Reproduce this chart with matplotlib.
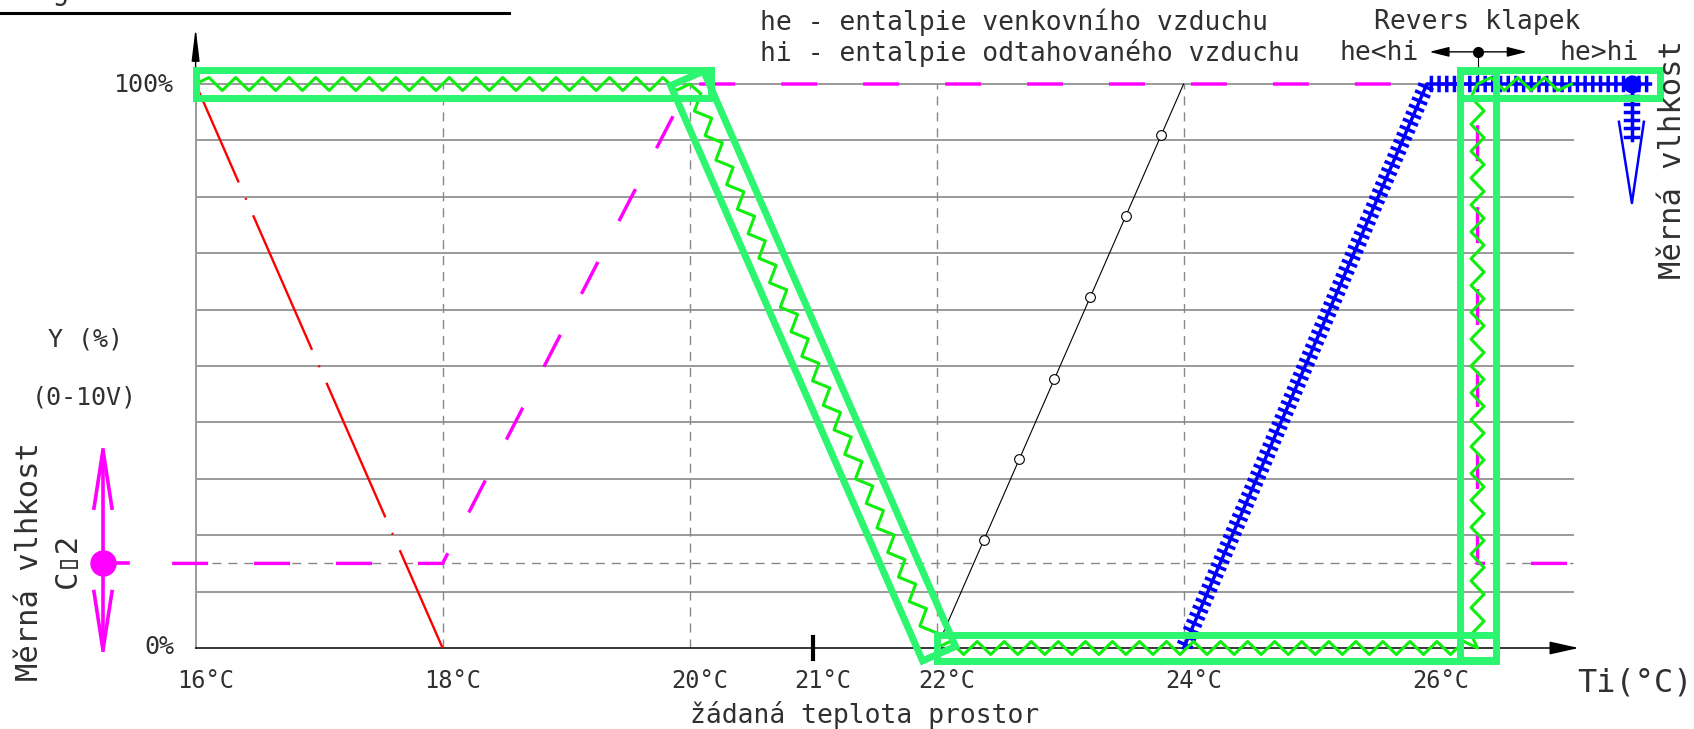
import matplotlib
matplotlib.use('Agg')
import matplotlib.pyplot as plt
import matplotlib.patheffects as pe
from matplotlib.patches import Polygon
import numpy as np

plt.rcParams['font.family'] = ['DejaVu Sans Mono', 'DejaVu Sans']
plt.rcParams['lines.scale_dashes'] = False

# --- data (temperature in °C, output Y in %) ---
x_ticks = [16, 18, 20, 21, 22, 24, 26]
x_tick_labels = ['16°C', '18°C', '20°C', '21°C', '22°C', '24°C', '26°C']
grid_levels = [10, 20, 30, 40, 50, 60, 70, 80, 90, 100]
dashed_temps = [18, 20, 22, 24]
co2_level = 15
t_end = 27.15

heat_t = [16, 18]                       # red dash-dot
heat_y = [100, 0]
co2_t = [15.81, 18, 20, 26.38, 26.38, 27.15]   # magenta dashed
co2_y = [15, 15, 100, 100, 15, 15]
cool_t = [22, 24]                       # black with circles
cool_y = [0, 100]
cool_marks = [19.2, 33.5, 47.7, 62.3, 76.6, 91.0]
rec_t = [24, 25.97, 27.78]              # blue ticked
rec_y = [0, 100, 100]
damp_t = [16, 20, 22, 26.38, 26.38, 27.14]     # green zigzag
damp_y = [100, 100, 0, 0, 100, 100]
reverse_t = 26.38

W, H = 1694, 729
fig = plt.figure(figsize=(W / 100, H / 100), dpi=100)
ax = fig.add_axes([0, 0, 1, 1])
ax.set_xlim(14.4162, 28.1328)
ax.set_ylim(-14.362, 114.894)
ax.axis('off')

GRAY = '#9a9a9a'
PINK = '#ff00ff'
BLUE = '#0000ff'
ZIG = '#10ee10'
BOX = '#2cf56f'
TXT = '#303030'


def label(xp, yp, s, **kw):
    kw.setdefault('color', TXT)
    kw.setdefault('va', 'center')
    fig.text(xp / W, 1 - yp / H, s, **kw)


def zigzag(xs, ys, period=27, amp=6.5):
    pts = ax.transData.transform(np.column_stack([xs, ys]))
    out = []
    for p0, p1 in zip(pts[:-1], pts[1:]):
        d = p1 - p0
        L = np.hypot(*d)
        u = d / L
        n = np.array([-u[1], u[0]])
        k = max(int(round(L / (period / 2))), 1)
        for i in range(k + 1):
            sign = 0 if i in (0, k) else (1 if i % 2 else -1)
            out.append(p0 + d * i / k + n * amp * sign)
    return ax.transData.inverted().transform(np.array(out))


def box(a, b, hw):
    p = ax.transData.transform([a, b])
    d = p[1] - p[0]
    u = d / np.hypot(*d)
    n = np.array([-u[1], u[0]]) * hw
    c = ax.transData.inverted().transform([p[0] + n, p[1] + n, p[1] - n, p[0] - n])
    ax.add_patch(Polygon(c, closed=True, fill=False, ec=BOX, lw=5, joinstyle='miter', zorder=6))


# grid
for g in grid_levels:
    ax.plot([16, t_end], [g, g], color=GRAY, lw=1.4, zorder=1)
for t in dashed_temps:
    ax.plot([t, t], [0, 100], color='#888888', lw=1.0, dashes=(6.5, 5), zorder=1)
ax.plot([16, t_end], [co2_level, co2_level], color='#888888', lw=1.0, dashes=(6.5, 5), zorder=1)

# axes
ax.plot([16, 16], [0, 100], color=GRAY, lw=1.4, zorder=2)
ax.annotate('', xy=(16, 110), xytext=(16, 100),
            arrowprops=dict(arrowstyle='-|>,head_length=1.0,head_width=0.12', color='k',
                            lw=1.0, mutation_scale=20, shrinkA=0, shrinkB=0))
ax.annotate('', xy=(27.2, 0), xytext=(16, 0),
            arrowprops=dict(arrowstyle='-|>,head_length=0.9,head_width=0.2', color='k',
                            lw=1.1, mutation_scale=20, shrinkA=0, shrinkB=0), zorder=2)
ax.plot([21, 21], [-2, 2], color='k', lw=3, zorder=3)

# curves
ax.plot(co2_t, co2_y, color=PINK, lw=2.45, dashes=(25.9, 33.1), solid_capstyle='butt',
        dash_capstyle='butt', zorder=3)
ax.plot(heat_t, heat_y, color='red', lw=1.7, linestyle=(28.4, (105.8, 12.2, 1.4, 12.2)),
        dash_capstyle='butt', zorder=3)
ax.plot(cool_t, cool_y, color='k', lw=0.8, zorder=3)
ax.plot(np.interp(cool_marks, cool_y, cool_t), cool_marks, 'o', ms=7, mfc='white',
        mec='k', mew=0.8, zorder=4)

ticks = [pe.Normal(),
         pe.TickedStroke(spacing=5.5, angle=90, length=0.85),
         pe.TickedStroke(spacing=5.5, angle=-90, length=0.85)]
ax.plot(rec_t, rec_y, color=BLUE, lw=2.5, path_effects=ticks, zorder=4)
ax.plot([27.63, 27.63], [100, 90], color=BLUE, lw=2.5, path_effects=ticks, zorder=4)
ax.plot([27.63], [100], 'o', color=BLUE, ms=12, zorder=4)
ax.plot([27.525, 27.63, 27.727], [93.3, 78.9, 93.3], color=BLUE, lw=1.8, zorder=4)

# CO2 symbol at the left
ax.plot([15.25], [co2_level], 'o', color=PINK, ms=18, zorder=3)
ax.plot([15.25, 15.25], [-0.35, 35.1], color=PINK, lw=2.6, zorder=3)
ax.plot([15.177, 15.25, 15.323], [24.8, 35.1, 24.8], color=PINK, lw=2.6, zorder=3)
ax.plot([15.177, 15.25, 15.323], [10.0, -0.35, 10.0], color=PINK, lw=2.6, zorder=3)
ax.plot([15.25, 15.45], [co2_level, co2_level], color=PINK, lw=2.6, zorder=3)

# damper zigzag and highlight boxes
z = zigzag(damp_t, damp_y)
ax.plot(z[:, 0], z[:, 1], color=ZIG, lw=2.2, zorder=5)
box((16.0, 100), (20.17, 100), 14)
box((19.98, 101), (22.02, -1), 18)
box((22.0, 0), (26.53, 0), 13)
box((26.38, -2.1), (26.38, 102.3), 18)
box((26.235, 100), (27.86, 100), 14)

# damper reverse pointer
ax.annotate('', xy=(26.78, 105.7), xytext=(25.99, 105.7),
            arrowprops=dict(arrowstyle='<|-|>,head_length=0.6,head_width=0.15', color='k',
                            lw=1.0, mutation_scale=20, shrinkA=0, shrinkB=0))
ax.plot([reverse_t], [105.7], 'o', color='k', ms=7)
ax.plot([reverse_t, reverse_t], [105.7, 100], color='k', lw=0.8)

# texts
for t, s in zip(x_ticks, x_tick_labels):
    ax.text(t + 0.08, -5.85, s, ha='center', va='center', fontsize=17, color=TXT)

label(760, 22, 'he - entalpie venkovního vzduchu', fontsize=19)
label(760, 53, 'hi - entalpie odtahovaného vzduchu', fontsize=19)
label(1374, 22, 'Revers klapek', fontsize=19)
label(1340, 53, 'he<hi', fontsize=19)
label(1559, 53, 'he>hi', fontsize=19)
label(174, 85, '100%', fontsize=18, ha='right')
label(174, 647, '0%', fontsize=18, ha='right')
label(85, 339, 'Y (%)', fontsize=18, ha='center')
label(84, 397, '(0-10V)', fontsize=18, ha='center')
label(30, 562, 'Měrná vlhkost', fontsize=22, ha='center', rotation=90)
label(67, 560, 'C\u25af2', fontsize=22, ha='center', rotation=90)
label(1672, 40, 'Měrná vlhkost', fontsize=22, ha='center', va='top', rotation=90)
label(690, 715, 'žádaná teplota prostor', fontsize=19)
label(1577, 683, 'Ti(°C)', fontsize=23)
label(19, 0, 'Regulace', fontsize=20, va='baseline')
fig.add_artist(plt.Line2D([0, 509 / W], [1 - 13 / H, 1 - 13 / H], color='k', lw=2.2))

fig.savefig('out.png', dpi=100)
